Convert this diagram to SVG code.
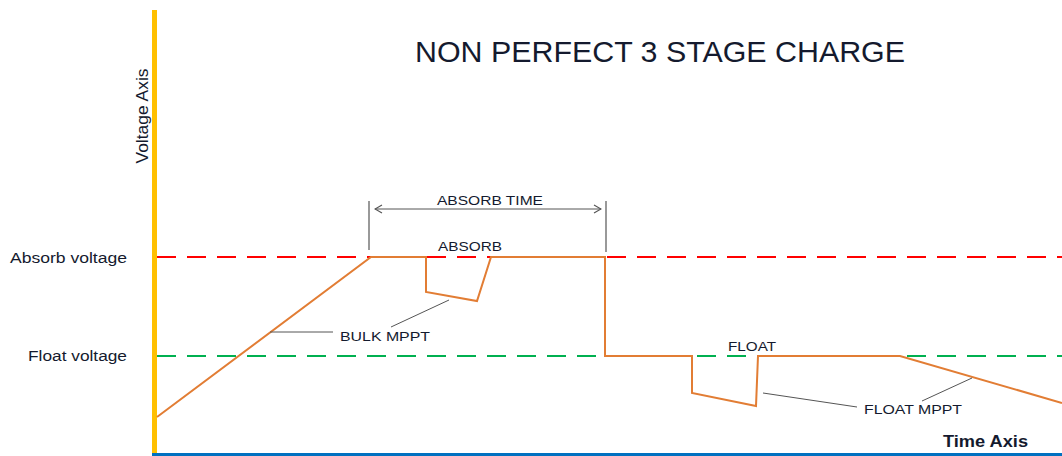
<svg xmlns="http://www.w3.org/2000/svg" width="1062" height="456" viewBox="0 0 1062 456">
<style>
.t{font-family:"Liberation Sans",Arial,sans-serif;fill:#141a2e}
.lbl{font-size:13.5px}
.lead{stroke:#555;stroke-width:1;fill:none}
.curve{stroke:#E27D34;stroke-width:2;fill:none;stroke-linejoin:miter}
</style>
<defs>
<marker id="chev" viewBox="0 0 10 10" refX="9" refY="5" markerWidth="10" markerHeight="10" markerUnits="userSpaceOnUse" orient="auto-start-reverse">
<path d="M2,1 L9,5 L2,9" fill="none" stroke="#555" stroke-width="1.2"/>
</marker>
</defs>
<rect width="1062" height="456" fill="#fff"/>
<g id="title"><text class="t" x="415" y="62" font-size="30" textLength="490" lengthAdjust="spacingAndGlyphs">NON PERFECT 3 STAGE CHARGE</text></g>
<g id="axes">
<rect x="152" y="10" width="5" height="446" fill="#FFC000"/>
<rect x="152" y="453" width="910" height="3" fill="#0070C0"/>
<text class="t" transform="translate(148,116) rotate(-90)" text-anchor="middle" font-size="17" textLength="95" lengthAdjust="spacingAndGlyphs">Voltage Axis</text>
<text class="t" x="943" y="447" font-size="16" font-weight="bold" textLength="85" lengthAdjust="spacingAndGlyphs">Time Axis</text>
</g>
<g id="levels">
<line x1="157" y1="257" x2="1062" y2="257" stroke="#FF0000" stroke-width="2" stroke-dasharray="19 11"/>
<line x1="157" y1="356" x2="1062" y2="356" stroke="#00B050" stroke-width="2" stroke-dasharray="19 11"/>
<text class="t" x="127" y="263" text-anchor="end" font-size="14" textLength="117" lengthAdjust="spacingAndGlyphs">Absorb voltage</text>
<text class="t" x="127" y="361" text-anchor="end" font-size="14" textLength="99" lengthAdjust="spacingAndGlyphs">Float voltage</text>
</g>
<g id="charge-curve">
<polyline class="curve" points="157,417 371,257 426,257 426,292 477,301 491,257 605,257 605,356 692,356 692,393 756,406 758,356 900,356 1062,403"/>
</g>
<g id="absorb-time">
<line x1="369" y1="201" x2="369" y2="250" stroke="#555" stroke-width="1.2"/>
<line x1="606" y1="201" x2="606" y2="252" stroke="#555" stroke-width="1.2"/>
<line x1="375" y1="209" x2="601" y2="209" stroke="#555" stroke-width="1" marker-start="url(#chev)" marker-end="url(#chev)"/>
<text class="t lbl" x="437" y="205" textLength="106" lengthAdjust="spacingAndGlyphs">ABSORB TIME</text>
</g>
<g id="labels">
<text class="t lbl" x="438" y="251" textLength="64" lengthAdjust="spacingAndGlyphs">ABSORB</text>
<text class="t lbl" x="340" y="341" textLength="90" lengthAdjust="spacingAndGlyphs">BULK MPPT</text>
<text class="t lbl" x="728" y="351" textLength="48" lengthAdjust="spacingAndGlyphs">FLOAT</text>
<text class="t lbl" x="864" y="414" textLength="98" lengthAdjust="spacingAndGlyphs">FLOAT MPPT</text>
</g>
<g id="connectors">
<line class="lead" x1="270" y1="332" x2="333" y2="332"/>
<line class="lead" x1="391" y1="327" x2="449" y2="300"/>
<line class="lead" x1="763" y1="393" x2="857" y2="407"/>
<line class="lead" x1="922" y1="401" x2="972" y2="378"/>
</g>
</svg>
